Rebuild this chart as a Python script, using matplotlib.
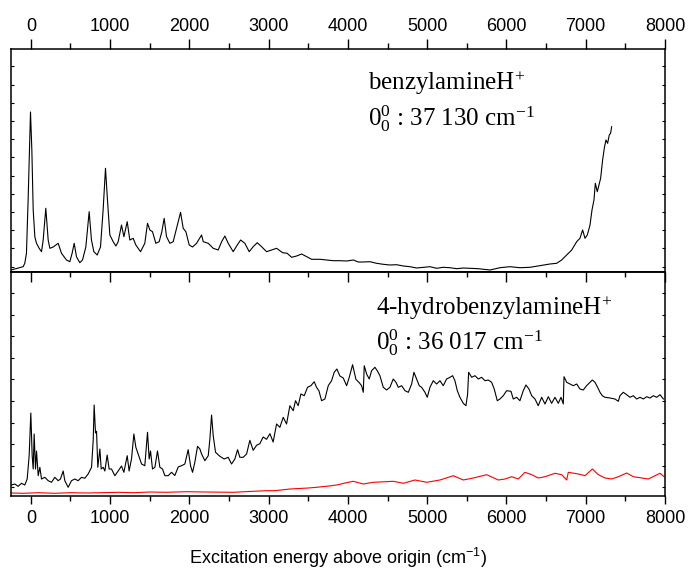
import numpy as np
import matplotlib
matplotlib.use("Agg")
import matplotlib.pyplot as plt
from matplotlib.ticker import MultipleLocator, FixedLocator, NullFormatter

plt.rcParams['font.family'] = ['Liberation Sans', 'DejaVu Sans']
plt.rcParams['mathtext.default'] = 'regular'

# benzylamineH+ spectrum (arbitrary intensity)
bz_x = [-250, -97, -76, -55, -34, -4, 13, 30, 51, 72, 105, 135, 156, 189, 219, 240, 282, 345, 387,
        450, 492, 521, 547, 576, 618, 652, 694, 736, 765, 795, 837, 879, 912, 942, 967, 997, 1039,
        1073, 1102, 1144, 1174, 1216, 1249, 1291, 1325, 1384, 1438, 1472, 1502, 1535, 1577, 1619,
        1653, 1682, 1712, 1754, 1796, 1838, 1889, 1922, 1956, 1998, 2040, 2091, 2154, 2175, 2238,
        2301, 2364, 2407, 2448, 2490, 2553, 2604, 2647, 2700, 2755, 2805, 2856, 2911, 2974, 3037,
        3100, 3176, 3234, 3290, 3353, 3416, 3479, 3542, 3647, 3731, 3815, 3899, 3984, 4068, 4131,
        4194, 4278, 4362, 4446, 4530, 4614, 4699, 4783, 4867, 4951, 5035, 5119, 5203, 5287, 5372,
        5455, 5539, 5645, 5792, 5918, 6044, 6170, 6297, 6423, 6549, 6633, 6696, 6760, 6823, 6886,
        6927, 6961, 6991, 7020, 7054, 7079, 7104, 7121, 7146, 7188, 7213, 7234, 7255, 7276, 7297,
        7314, 7327]
bz_y = [2, 5.3, 8.7, 18.7, 72, 160, 122, 62, 35, 28.7, 23.7, 20.3, 32, 63.7, 32, 23.7, 25, 28.7, 18.7,
        12, 10.3, 18.7, 28.7, 15.3, 9.3, 12, 25, 60.3, 32, 20.3, 17, 25, 62, 103.7, 72, 37, 30.3,
        26, 30.3, 47, 35.3, 50.3, 32, 33.7, 27, 20.3, 28.7, 48.7, 42, 40.3, 28.7, 30.3,
        40.3, 53.7, 35.3, 28.7, 30.3, 43.7, 59.7, 43.7, 40.3, 27, 25, 28.7, 37, 30.3, 28.7,
        23.7, 22, 30.3, 36, 28.7, 20.3, 27, 32, 28.7, 20.3, 25.3, 29.3, 25.3, 20.3, 22,
        23.7, 19.3, 18.7, 14.7, 16, 18, 15.3, 12.7, 12.7, 12, 11.3, 11.3, 11, 12, 10,
        10, 10.3, 8.7, 7.7, 7, 7.3, 6, 5.3, 4, 4.7, 5.3, 3.7, 4.7, 4.3, 3.3,
        4, 3.7, 3.3, 2, 4.3, 5.3, 4.3, 4.7, 6.3, 8, 8.7, 12, 17, 22, 30.3,
        33.7, 42, 33.7, 37, 47, 62, 72, 88.7, 80.3, 93.7, 112, 123.7, 132, 128.7, 137,
        138.7, 145.3]

# 4-hydrobenzylamineH+ spectrum (black) and second trace (red)
hb_x = [-244, -202, -160, -118, -76, -46, -21, 0, 17, 30, 42, 59, 72, 93, 114, 135, 177, 219, 261,
        303, 345, 374, 408, 429, 471, 513, 555, 597, 640, 681, 723, 766, 787, 799, 816, 829, 845,
        871, 888, 913, 934, 963, 988, 1018, 1060, 1102, 1144, 1174, 1216, 1240, 1270, 1300, 1325,
        1354, 1397, 1438, 1472, 1493, 1510, 1535, 1565, 1598, 1628, 1661, 1691, 1733, 1775, 1817,
        1859, 1901, 1943, 1985, 2015, 2040, 2069, 2103, 2133, 2154, 2196, 2238, 2259, 2280, 2301,
        2330, 2385, 2439, 2490, 2532, 2574, 2608, 2637, 2679, 2722, 2763, 2805, 2848, 2889, 2931,
        2974, 3016, 3057, 3100, 3142, 3184, 3226, 3268, 3310, 3339, 3373, 3407, 3449, 3491, 3533,
        3575, 3604, 3634, 3668, 3710, 3752, 3794, 3827, 3861, 3899, 3941, 3984, 4017, 4059, 4101,
        4143, 4173, 4194, 4206, 4236, 4269, 4299, 4341, 4370, 4404, 4446, 4488, 4530, 4572, 4606,
        4636, 4678, 4720, 4762, 4804, 4833, 4867, 4900, 4930, 4972, 5001, 5035, 5077, 5119, 5161,
        5203, 5245, 5287, 5321, 5350, 5380, 5413, 5455, 5489, 5510, 5523, 5561, 5603, 5645, 5687,
        5729, 5771, 5813, 5846, 5884, 5918, 5960, 6002, 6057, 6086, 6128, 6170, 6212, 6246, 6284,
        6318, 6360, 6401, 6444, 6486, 6528, 6570, 6612, 6654, 6688, 6717, 6726, 6760, 6801, 6843,
        6886, 6927, 6969, 7011, 7054, 7083, 7117, 7150, 7180, 7209, 7243, 7306, 7369, 7411, 7432,
        7474, 7516, 7558, 7600, 7643, 7685, 7727, 7769, 7811, 7853, 7895, 7937, 7980]
hb_y = [11, 12, 9.7, 12.7, 11, 17, 40.3, 83, 40.3, 27, 62, 27, 45, 20.3, 28.7, 17, 18.7, 15.3, 13.7,
        18.7, 15.3, 17, 25, 15.3, 8.7, 15.3, 17, 15.3, 18.7, 17.7, 22, 28.7, 56, 91, 63, 64.7, 28.7,
        47, 27, 28.7, 25, 41, 27, 27, 20.3, 25, 30, 23.7, 40.3, 25, 37, 62, 48.7,
        42, 32, 30.3, 63.7, 37, 45, 27, 28.7, 45, 28.7, 27, 20.3, 20.3, 23.7, 20.5,
        29, 30.3, 32, 46.3, 30.3, 23.7, 33.7, 49.7, 47, 42, 35.3, 40.3, 57, 81, 60.3,
        43.7, 39.7, 37, 38.7, 32, 37, 46.3, 38.7, 38.7, 42, 55.7, 45.7, 50.7, 52.3, 59,
        56.7, 62.3, 54, 72, 68.7, 78.7, 72, 90.3, 85.3, 95.3, 90.3, 102, 100.3, 108.7, 110.3,
        114.3, 108.7, 105.3, 95.3, 97, 110.3, 115.3, 123.7, 127, 120, 118, 110.3, 118.7, 131.3, 116.7,
        113.3, 110.3, 103.7, 130.3, 122, 117, 125.3, 128.7, 125.3, 120.3, 108.7, 106, 108.7, 117, 113.7,
        108.7, 110.3, 105.3, 103.7, 112, 123.7, 117, 110.3, 108.7, 103.7, 98.7, 108.7, 115.3, 112, 115.3,
        110.3, 117, 118.7, 120.3, 115.3, 105.3, 98.7, 92.7, 90.3, 102, 123.7, 118.7, 120.3, 117, 118.7,
        115.3, 116, 113.7, 107, 95.3, 97, 100.3, 105.3, 104.7, 97, 98.7, 95.3, 105.3, 111, 107,
        100.3, 97, 90.3, 98.7, 92, 99.3, 92.7, 98.7, 92.7, 98.7, 92, 119.3, 113.7, 112, 110.3,
        112, 107, 106, 110.3, 113.7, 116, 113.7, 108.7, 103.7, 100.3, 98.7, 98, 97, 94.7, 100.3,
        103.7, 101.3, 98.7, 100.3, 97, 98.7, 97, 99.3, 98, 100.3, 98.7, 101.3, 97]

red_x = [-244, -100, 100, 300, 500, 700, 900, 1100, 1300, 1500, 1700, 1965, 2200, 2550, 2800, 2974,
         3079, 3268, 3499, 3605, 3794, 3878, 3962, 4067, 4194, 4320, 4572, 4699, 4845, 4993, 5161,
         5329, 5455, 5581, 5750, 5897, 5981, 6065, 6149, 6233, 6318, 6401, 6486, 6612, 6696, 6760,
         6780, 6906, 6991, 7083, 7159, 7243, 7327, 7411, 7516, 7600, 7706, 7790, 7874, 7937, 7988]
red_y = [3, 2.7, 3.3, 2.7, 3.3, 3, 3.3, 3.7, 3.3, 4, 3.7, 4.3, 4, 3.7, 4.7, 5.3,
         5.3, 7, 8, 8.7, 10.3, 11.3, 13, 14.7, 12, 13.7, 14.7, 12.7, 16, 13.7, 16,
         20.3, 16, 18, 21.3, 16, 17, 19.3, 17, 23.7, 21.3, 18, 19.3, 22.7, 21.3, 16,
         23.7, 22, 20.3, 27, 21.3, 18, 17, 19.3, 23, 19.3, 18, 17, 20.3, 22.7, 19.3]

assert len(bz_x) == len(bz_y) and len(hb_x) == len(hb_y) and len(red_x) == len(red_y)

fig = plt.figure(figsize=(6.89, 5.76), dpi=100)
ax1 = fig.add_axes([11/689, 1-272/576, 654/689, 223/576])
ax2 = fig.add_axes([11/689, 1-496/576, 654/689, 224/576])

ax1.plot(bz_x, bz_y, color='black', lw=0.8)
ax2.plot(hb_x, hb_y, color='black', lw=0.8)
ax2.plot(red_x, red_y, color='red', lw=0.8)

for ax in (ax1, ax2):
    ax.set_xlim(-250, 8000)
    ax.xaxis.set_major_locator(MultipleLocator(1000))
    ax.xaxis.set_minor_locator(MultipleLocator(500))
    for s in ax.spines.values():
        s.set_linewidth(1.1)
    ax.tick_params(axis='y', which='both', left=True, right=True, labelleft=False, labelright=False)
    ax.tick_params(axis='y', which='major', length=2.5, width=0.8, direction='in')

ax1.set_ylim(0, 223)
ax1.yaxis.set_major_locator(FixedLocator(np.arange(5.5, 223, 18.2)))
ax1.tick_params(axis='x', which='both', top=True, bottom=False, labeltop=True, labelbottom=False,
                direction='out', labelsize=13, pad=3)
ax1.tick_params(axis='x', which='major', length=7, width=1)
ax1.tick_params(axis='x', which='minor', length=4, width=1)

ax2.set_ylim(0, 224)
ax2.yaxis.set_major_locator(FixedLocator(np.arange(8.7, 224, 21.6)))
ax2.tick_params(axis='x', which='both', top=False, bottom=True, labeltop=False, labelbottom=True,
                direction='out', labelsize=13, pad=4)
ax2.tick_params(axis='x', which='major', length=6, width=1)
ax2.tick_params(axis='x', which='minor', length=3.5, width=1)
ax2.set_xlabel('Excitation energy above origin (cm$^{-1}$)', fontsize=13, labelpad=14)

# inward ticks on the boundary between the two panels
sec = ax2.secondary_xaxis('top')
sec.xaxis.set_major_locator(MultipleLocator(1000))
sec.xaxis.set_minor_locator(MultipleLocator(500))
sec.xaxis.set_major_formatter(NullFormatter())
sec.tick_params(axis='x', which='major', direction='in', length=7, width=1)
sec.tick_params(axis='x', which='minor', direction='in', length=3.5, width=1)
sec.spines['top'].set_linewidth(1.1)

serif = ['Liberation Serif', 'DejaVu Serif']
fig.text(368/689, 1-90/576, 'benzylamineH$^{+}$', fontsize=18, family=serif, va='baseline')
fig.text(368/689, 1-126/576, '$0_{0}^{0}$ : 37 130 cm$^{-1}$', fontsize=18, family=serif, va='baseline')
fig.text(376/689, 1-315/576, '4-hydrobenzylamineH$^{+}$', fontsize=18, family=serif, va='baseline')
fig.text(376/689, 1-350/576, '$0_{0}^{0}$ : 36 017 cm$^{-1}$', fontsize=18, family=serif, va='baseline')

fig.savefig('out.png', dpi=100)
